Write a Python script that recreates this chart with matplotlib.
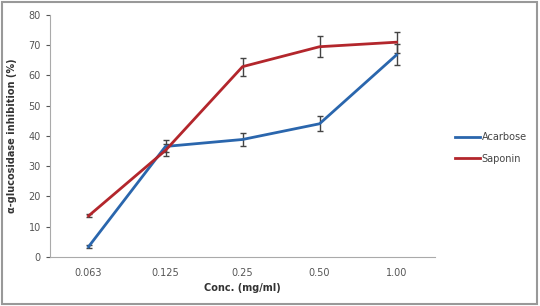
import matplotlib.pyplot as plt
from matplotlib.patches import Rectangle
from matplotlib.lines import Line2D

conc = ['0.063', '0.125', '0.25', '0.50', '1.00']
acarbose = [3.3, 36.5, 38.8, 44.0, 66.8]
acarbose_err = [0.5, 2.0, 2.2, 2.5, 3.5]
saponin = [13.5, 35.2, 62.9, 69.5, 71.0]
saponin_err = [0.5, 2.0, 3.0, 3.5, 3.5]

blue = '#2a66ad'
red = '#b3262c'

fig = plt.figure(figsize=(5.4, 3.06), dpi=100)
ax = fig.add_axes([0.0926, 0.161, 0.713, 0.79])

x = range(len(conc))
ax.errorbar(x, acarbose, yerr=acarbose_err, color=blue, lw=2,
            ecolor='#444444', elinewidth=1, capsize=2)
ax.errorbar(x, saponin, yerr=saponin_err, color=red, lw=2,
            ecolor='#444444', elinewidth=1, capsize=2)

ax.set_xlim(-0.5, len(conc) - 0.5)
ax.set_ylim(0, 80)
ax.set_yticks(range(0, 81, 10))
ax.set_xticks(list(x))
ax.set_xticklabels(conc)
ax.tick_params(axis='both', labelsize=7, colors='#555555', length=3)
ax.tick_params(axis='x', length=0, pad=8)
for s in ['top', 'right']:
    ax.spines[s].set_visible(False)
for s in ['left', 'bottom']:
    ax.spines[s].set_color('#aaaaaa')

ax.set_xlabel('Conc. (mg/ml)', fontsize=7, fontweight='bold', color='#333333', labelpad=4)
ax.set_ylabel('α-glucosidase inhibition (%)', fontsize=7, fontweight='bold', color='#333333', labelpad=8)

handles = [Line2D([], [], color=blue, lw=2), Line2D([], [], color=red, lw=2)]
ax.legend(handles, ['Acarbose', 'Saponin'], loc='center left', bbox_to_anchor=(1.03, 0.45),
          frameon=False, fontsize=7, handlelength=2.5, handletextpad=0.2,
          labelspacing=1.2, labelcolor='#444444')

fig.patches.append(Rectangle((0.003, 0.008), 0.992, 0.985, transform=fig.transFigure,
                             fill=False, edgecolor='#999999', lw=1.5))

fig.savefig('out.png', dpi=100)
